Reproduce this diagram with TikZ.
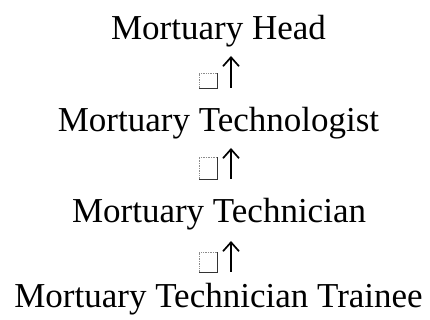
\documentclass[tikz,border=0pt]{standalone}
\usepackage{fontspec}
\setmainfont{Liberation Serif}
\usepackage{xcolor}
\usepackage{tikz}
\usetikzlibrary{arrows.meta}
\usetikzlibrary{positioning}

\tikzset{
  rank/.style={inner sep=0pt,anchor=base,font=\fontsize{35}{42}\selectfont},
  uparrow/.style={-{Straight Barb[length=9pt,width=16pt]},line width=1.7pt},
  boxsolid/.style={line width=0.8pt,black!80},
  boxfaint/.style={line width=0.7pt,densely dotted,black!45}
}

\begin{document}
\begin{tikzpicture}[transform shape,scale=1,x=1pt,y=1pt]
	  	\useasboundingbox (0,0) rectangle (430,320);
	  	% ranks
	  	\node[rank] (head) at (218.5,280) {Mortuary Head};
	  	\node[rank] (tglst) at (218.5,188) {Mortuary Technologist};
	  	\node[rank] (tcn) at (219,97) {Mortuary Technician};
	  	\node[rank] (trainee) at (218.5,12) {Mortuary Technician Trainee};
	  	% arrows
	  	\coordinate (a1s) at (231,232); \coordinate (a1e) at (231,264);
	  	\coordinate (a2s) at (231,141); \coordinate (a2e) at (231,172);
	  	\coordinate (a3s) at (231,48);  \coordinate (a3e) at (231,79);
	  	\draw[uparrow] (a1s) -- (a1e);
	  	\draw[uparrow] (a2s) -- (a2e);
	  	\draw[uparrow] (a3s) -- (a3e);
	  	% missing-glyph boxes
	  	\draw[boxfaint] (199,232) -- (199,247) -- (217,247);
	  	\draw[boxsolid] (199,232) -- (217,232) -- (217,247);
	  	\draw[boxfaint] (199,141) -- (199,163) -- (217,163);
	  	\draw[boxsolid] (199,141) -- (217,141) -- (217,163);
	  	\draw[boxfaint] (199,48) -- (199,68) -- (217,68);
	  	\draw[boxsolid] (199,48) -- (217,48) -- (217,68);
	  \end{tikzpicture}
\end{document}
